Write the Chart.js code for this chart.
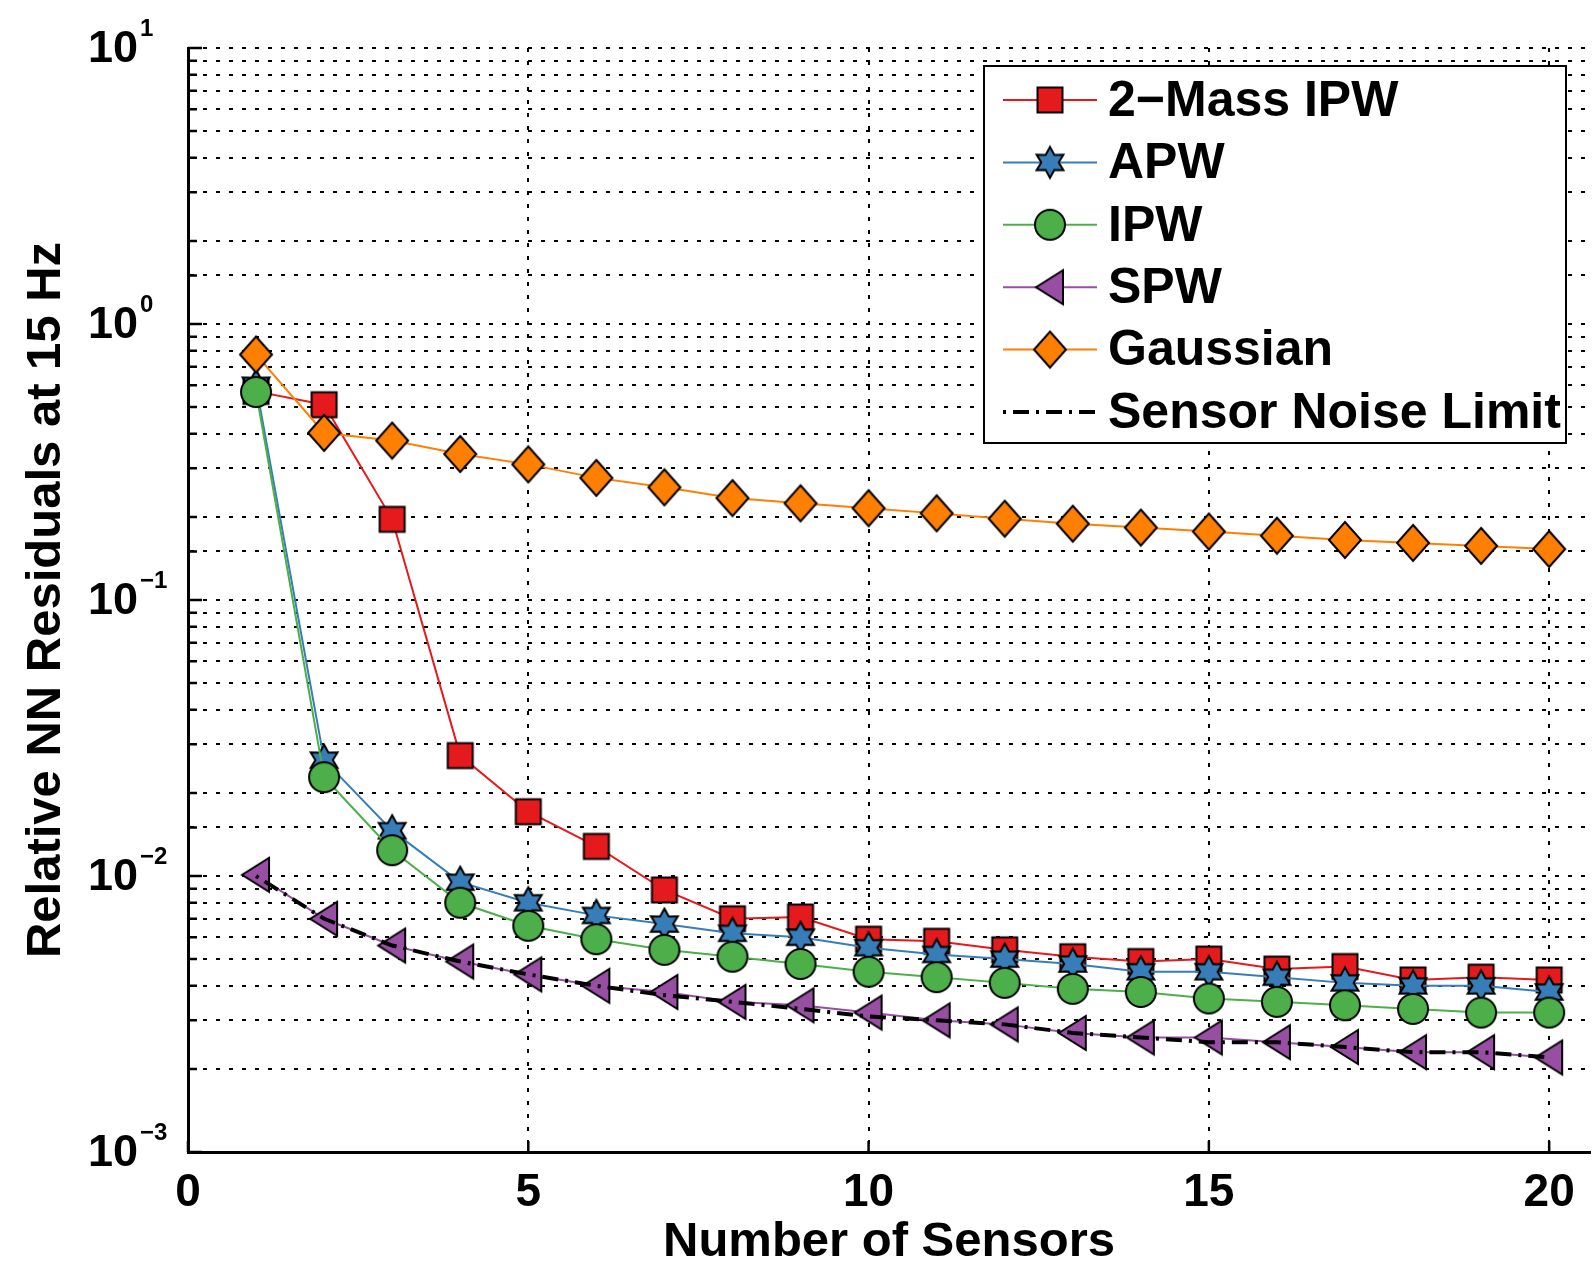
<!DOCTYPE html>
<html>
<head>
<meta charset="utf-8">
<title>Relative NN Residuals at 15 Hz</title>
<script src="https://cdn.jsdelivr.net/npm/chart.js@4.4.1/dist/chart.umd.min.js"></script>
<style>
  html, body { margin: 0; padding: 0; background: #fff; }
  #wrap { width: 1596px; height: 1272px; }
</style>
</head>
<body>
<div id="wrap"><canvas id="myChart" width="1596" height="1272"></canvas></div>
<script>
'use strict';

// ======= data =======

var sensors = [1, 2, 3, 4, 5, 6, 7, 8, 9, 10, 11, 12, 13, 14, 15, 16, 17, 18, 19, 20];

var twoMassIpw = [0.57, 0.51, 0.196, 0.0273, 0.0171, 0.0128, 0.0089, 0.0070, 0.0071, 0.0059,
  0.0058, 0.0054, 0.0051, 0.0049, 0.0050, 0.0046, 0.0047, 0.0042, 0.0043, 0.0042];
var apw = [0.60, 0.0263, 0.0146, 0.0095, 0.0080, 0.0072, 0.0067, 0.0062, 0.0060, 0.0055,
  0.0052, 0.0050, 0.0048, 0.0045, 0.0045, 0.0043, 0.0041, 0.0040, 0.0040, 0.0038];
var ipw = [0.567, 0.0228, 0.0124, 0.0080, 0.0066, 0.0059, 0.0054, 0.0051, 0.0048, 0.0045,
  0.0043, 0.0041, 0.0039, 0.0038, 0.0036, 0.0035, 0.0034, 0.0033, 0.0032, 0.0032];
var spw = [0.0101, 0.0070, 0.0056, 0.0049, 0.0044, 0.0040, 0.0038, 0.0035, 0.0034, 0.0032,
  0.0030, 0.0029, 0.0027, 0.0026, 0.0026, 0.0025, 0.0024, 0.0023, 0.0023, 0.0022];
var gaussian = [0.775, 0.403, 0.378, 0.338, 0.310, 0.277, 0.256, 0.234, 0.224, 0.215,
  0.206, 0.197, 0.189, 0.183, 0.177, 0.171, 0.165, 0.161, 0.157, 0.153];
var noiseLimit = [0.0100, 0.0070, 0.0056, 0.0049, 0.0044, 0.0040, 0.0037, 0.0035, 0.0033, 0.0031,
  0.0030, 0.0029, 0.0027, 0.0026, 0.0025, 0.0025, 0.0024, 0.0023, 0.0023, 0.0022];

var seriesNames = ['2\u2212Mass IPW', 'APW', 'IPW', 'SPW', 'Gaussian', 'Sensor Noise Limit'];

var xTicks = [0, 5, 10, 15, 20];
var yExponents = [-3, -2, -1, 0, 1];

var xTitle = 'Number of Sensors';
var yTitle = 'Relative NN Residuals at 15 Hz';

// ======= end data =======


// ======= helpers =======

var fontFamily = '"Liberation Sans", Arial, Helvetica, sans-serif';
Chart.defaults.font.family = fontFamily;
Chart.defaults.color = '#000';

function toPoints(values) {
  return sensors.map(function (s, i) {
    return { x: s, y: values[i] };
  });
}

// marker pictures drawn once on small canvases
function makeMarker(shape, fill) {
  var c = document.createElement('canvas');
  c.width = 40;
  c.height = 40;
  var g = c.getContext('2d');
  g.fillStyle = fill;
  g.strokeStyle = '#000';
  g.lineWidth = 2;
  g.beginPath();
  if (shape === 'square') {
    g.rect(7.5, 7.5, 25, 25);
  } else if (shape === 'circle') {
    g.arc(20, 20, 15, 0, Math.PI * 2);
  } else if (shape === 'hexagram') {
    for (var i = 0; i < 12; i++) {
      var r = i % 2 ? 8.7 : 15.5;
      var a = -Math.PI / 2 + i * Math.PI / 6;
      var px = 20 + r * Math.cos(a);
      var py = 20 + r * Math.sin(a);
      if (i === 0) g.moveTo(px, py); else g.lineTo(px, py);
    }
  } else if (shape === 'triangleLeft') {
    g.moveTo(6, 20);
    g.lineTo(33, 3);
    g.lineTo(33, 37);
  } else if (shape === 'diamond') {
    g.moveTo(20, 2);
    g.lineTo(36, 20);
    g.lineTo(20, 38);
    g.lineTo(4, 20);
  }
  g.closePath();
  g.fill();
  g.stroke();
  return c;
}

function isPow10(v) {
  var l = Math.log10(v);
  return Math.abs(l - Math.round(l)) < 1e-9;
}

// ======= end helpers =======


// ======= plugin: inward ticks, y labels, legend =======

var decorPlugin = {
  id: 'decor',
  beforeDatasetsDraw: function (chart) {
    var ctx = chart.ctx;
    var area = chart.chartArea;
    var yScale = chart.scales.y;
    var xScale = chart.scales.x;
    ctx.save();
    ctx.strokeStyle = '#000';
    ctx.lineWidth = 2.5;
    ctx.setLineDash([]);
    ctx.beginPath();
    yScale.ticks.forEach(function (t) {
      var py = yScale.getPixelForValue(t.value);
      var len = isPow10(t.value) ? 14 : 9;
      ctx.moveTo(area.left, py);
      ctx.lineTo(area.left + len, py);
    });
    xScale.ticks.forEach(function (t) {
      var px = xScale.getPixelForValue(t.value);
      ctx.moveTo(px, area.bottom);
      ctx.lineTo(px, area.bottom - 11);
    });
    ctx.stroke();
    ctx.restore();
  },
  afterDraw: function (chart) {
    var ctx = chart.ctx;
    var yScale = chart.scales.y;

    // y tick labels as 10 with a raised exponent
    ctx.save();
    ctx.fillStyle = '#000';
    yExponents.forEach(function (e) {
      var py = yScale.getPixelForValue(Math.pow(10, e));
      ctx.font = 'bold 45px ' + fontFamily;
      ctx.textAlign = 'right';
      ctx.textBaseline = 'middle';
      ctx.fillText('10', 138, py + 2);
      ctx.font = 'bold 24px ' + fontFamily;
      ctx.textAlign = 'left';
      ctx.textBaseline = 'alphabetic';
      ctx.fillText(String(e).replace('-', '\u2212'), 140, py - 12);
    });
    ctx.restore();

    // legend box
    var boxL = 984, boxT = 66, boxR = 1566, boxB = 443;
    ctx.save();
    ctx.fillStyle = '#fff';
    ctx.fillRect(boxL, boxT, boxR - boxL, boxB - boxT);
    ctx.strokeStyle = '#000';
    ctx.lineWidth = 2;
    ctx.strokeRect(boxL, boxT, boxR - boxL, boxB - boxT);

    chart.data.datasets.forEach(function (ds, i) {
      var rowY = boxT + 34 + i * 62.4;
      ctx.save();
      ctx.strokeStyle = ds.borderColor;
      ctx.lineWidth = ds.borderWidth;
      ctx.setLineDash(ds.borderDash || []);
      ctx.beginPath();
      ctx.moveTo(1003, rowY);
      ctx.lineTo(1097, rowY);
      ctx.stroke();
      ctx.restore();
      if (ds.pointStyle && ds.pointStyle.getContext) {
        ctx.drawImage(ds.pointStyle, 1050 - ds.pointStyle.width / 2, rowY - ds.pointStyle.height / 2);
      }
      ctx.fillStyle = '#000';
      ctx.font = 'bold 50px ' + fontFamily;
      ctx.textAlign = 'left';
      ctx.textBaseline = 'middle';
      ctx.fillText(ds.label, 1108, rowY + 2);
    });
    ctx.restore();
  }
};

// ======= end plugin =======


// ======= chart =======

function lineSet(label, values, color, marker, order) {
  return {
    label: label,
    data: toPoints(values),
    borderColor: color,
    backgroundColor: color,
    borderWidth: 2,
    pointStyle: marker,
    pointRadius: 15,
    pointHoverRadius: 15,
    tension: 0,
    order: order
  };
}

var datasets = [
  lineSet(seriesNames[0], twoMassIpw, '#e41a1c', makeMarker('square', '#e41a1c'), 5),
  lineSet(seriesNames[1], apw, '#377eb8', makeMarker('hexagram', '#377eb8'), 4),
  lineSet(seriesNames[2], ipw, '#4daf4a', makeMarker('circle', '#4daf4a'), 3),
  lineSet(seriesNames[3], spw, '#984ea3', makeMarker('triangleLeft', '#984ea3'), 2),
  lineSet(seriesNames[4], gaussian, '#ff7f00', makeMarker('diamond', '#ff7f00'), 1),
  {
    label: seriesNames[5],
    data: toPoints(noiseLimit),
    borderColor: '#000',
    borderWidth: 4,
    borderDash: [3, 7, 16, 7],
    pointRadius: 0,
    tension: 0,
    order: 0
  }
];

var ctx = document.getElementById('myChart').getContext('2d');
var chart = new Chart(ctx, {
  type: 'line',
  data: { datasets: datasets },
  plugins: [decorPlugin],
  options: {
    responsive: false,
    animation: false,
    devicePixelRatio: 1,
    layout: { autoPadding: false, padding: { top: 48, right: 6, left: 0, bottom: 0 } },
    plugins: {
      legend: { display: false },
      tooltip: { enabled: false }
    },
    scales: {
      x: {
        type: 'linear',
        min: 0,
        max: 20.6,
        afterBuildTicks: function (scale) {
          scale.ticks = xTicks.map(function (v) { return { value: v }; });
        },
        afterFit: function (scale) {
          scale.height = 120;
          scale.paddingLeft = 0;
          scale.paddingRight = 0;
        },
        ticks: {
          font: { size: 46, weight: 'bold' },
          color: '#000',
          padding: 14,
          maxRotation: 0
        },
        grid: { color: '#000', lineWidth: 2, drawTicks: false },
        border: { display: true, color: '#000', width: 3, dash: [4, 9] },
        title: {
          display: true,
          text: xTitle,
          font: { size: 49, weight: 'bold' },
          color: '#000',
          padding: 0
        }
      },
      y: {
        type: 'logarithmic',
        min: 0.001,
        max: 10,
        afterFit: function (scale) {
          scale.width = 188;
          scale.paddingTop = 0;
          scale.paddingBottom = 0;
        },
        ticks: {
          autoSkip: false,
          callback: function () { return ''; }
        },
        grid: { color: '#000', lineWidth: 2, drawTicks: false },
        border: { display: true, color: '#000', width: 3, dash: [4, 9] },
        title: {
          display: true,
          text: yTitle,
          font: { size: 49, weight: 'bold' },
          color: '#000',
          padding: { top: 17, bottom: 0 }
        }
      }
    }
  }
});

// ======= end chart =======
</script>
</body>
</html>
